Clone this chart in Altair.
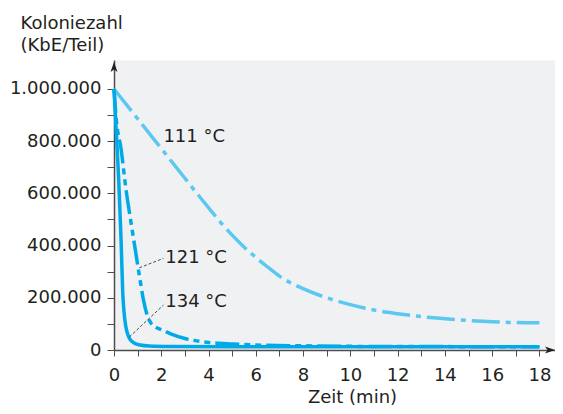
import altair as alt
import pandas as pd

# ---- data ----
t111 = [0, 1, 2, 3, 4, 4.5, 5, 5.5, 6, 6.5, 7, 8, 9, 10, 11, 12, 13, 14, 15, 16, 17, 18]
v111 = [1.0, 0.886, 0.772, 0.658, 0.545, 0.49, 0.44, 0.395, 0.355, 0.318, 0.283, 0.235,
        0.2, 0.174, 0.153, 0.139, 0.128, 0.12, 0.113, 0.108, 0.105, 0.104]

t121 = [0, 0.1, 0.3, 0.5, 0.7, 0.9, 1.1, 1.25, 1.4, 1.55, 1.75, 2.0, 2.4, 3.0, 3.5, 4.0,
        5.0, 6.0, 8, 10, 14, 18]
v121 = [1.0, 0.88, 0.77, 0.62, 0.5, 0.385, 0.27, 0.19, 0.135, 0.105, 0.088, 0.078, 0.062,
        0.044, 0.035, 0.029, 0.023, 0.019, 0.016, 0.014, 0.013, 0.012]

t134 = [0, 0.1, 0.2, 0.3, 0.37, 0.42, 0.5, 0.6, 0.7, 0.85, 1.1, 1.5, 2.4, 5, 10, 18]
v134 = [1.0, 0.83, 0.65, 0.42, 0.22, 0.15, 0.09, 0.055, 0.038, 0.027, 0.019, 0.015, 0.013,
        0.012, 0.012, 0.012]

label_text = ["111 °C", "121 °C", "134 °C"]
label_t = [2.09, 2.17, 2.17]
label_v = [0.798, 0.332, 0.166]

leader_t = [1.07, 0.65]
leader_v = [0.315, 0.05]
leader_t2 = [2.09, 2.09]
leader_v2 = [0.351, 0.172]

x_ticks = list(range(0, 19))
y_ticks = [i * 100000 for i in range(0, 11)]

X_MAX = 18.66
M = 1e6
FONT = "DejaVu Sans"
FS = 18
TXT = "#231F20"
AX = "#4D4D4F"
C_LIGHT = "#5BC8F2"
C_DARK = "#00AAE8"

df111 = pd.DataFrame({"t": t111, "v": [v * M for v in v111]})
df121 = pd.DataFrame({"t": t121, "v": [v * M for v in v121]})
df134 = pd.DataFrame({"t": t134, "v": [v * M for v in v134]})
dflab = pd.DataFrame({"t": label_t, "v": [v * M for v in label_v], "txt": label_text})
dflead = pd.DataFrame({"t": leader_t, "v": [v * M for v in leader_v],
                       "t2": leader_t2, "v2": [v * M for v in leader_v2]})
dfarrow_up = pd.DataFrame({"t": [0], "v": [1.103 * M]})
dfarrow_right = pd.DataFrame({"t": [X_MAX], "v": [0]})

xs = alt.Scale(domain=[0, X_MAX], nice=False, zero=False)
ys = alt.Scale(domain=[0, 1111111], nice=False)

x_axis = alt.Axis(
    values=x_ticks,
    labelExpr="datum.value % 2 == 0 ? datum.label : ''",
    title="Zeit (min)",
    titleX=238, titleY=52, titleAlign="center", titleBaseline="alphabetic",
    tickSize=6, labelPadding=10, labelFlush=False, labelOverlap=False,
    grid=False, domainColor=AX, domainWidth=1.5, tickColor=AX, tickWidth=1,
    labelFont=FONT, labelFontSize=FS, labelColor=TXT,
    titleFont=FONT, titleFontSize=FS, titleFontWeight="normal", titleColor=TXT,
)
y_axis = alt.Axis(
    values=y_ticks,
    labelExpr="datum.value % 200000 == 0 ? replace(replace(format(datum.value, ','), ',', '.'), ',', '.') : ''",
    title=["Koloniezahl", "(KbE/Teil)"],
    titleAngle=0, titleAlign="left", titleBaseline="alphabetic",
    titleX=-94, titleY=-32, titleLineHeight=22,
    tickSize=7, labelPadding=6, labelOverlap=False, labelFlush=False,
    grid=False, domainColor=AX, domainWidth=1.5, tickColor=AX, tickWidth=1,
    labelFont=FONT, labelFontSize=FS, labelColor=TXT,
    titleFont=FONT, titleFontSize=FS, titleFontWeight="normal", titleColor=TXT,
)

def enc():
    return dict(
        x=alt.X("t:Q", scale=xs, axis=x_axis),
        y=alt.Y("v:Q", scale=ys, axis=y_axis),
    )

l111 = alt.Chart(df111).mark_line(
    color=C_LIGHT, strokeWidth=3.5, strokeDash=[28, 6, 5, 6], interpolate="monotone"
).encode(**enc())

l121 = alt.Chart(df121).mark_line(
    color=C_DARK, strokeWidth=3.5, strokeDash=[24, 5, 6, 5, 6, 5], interpolate="monotone"
).encode(**enc())

l134 = alt.Chart(df134).mark_line(
    color=C_DARK, strokeWidth=3.5, interpolate="monotone"
).encode(**enc())

leaders = alt.Chart(dflead).mark_rule(
    color="#231F20", strokeWidth=0.8, strokeDash=[3, 2]
).encode(
    x2="t2:Q", y2="v2:Q", **enc()
)

labels = alt.Chart(dflab).mark_text(
    align="left", baseline="alphabetic", font=FONT, fontSize=FS, color=TXT
).encode(text="txt:N", **enc())

arrow_up = alt.Chart(dfarrow_up).mark_point(
    shape="M0,0 L-0.7,2 L0,1.5 L0.7,2 Z", size=100, filled=True, color="#231F20",
    opacity=1, strokeWidth=0
).encode(**enc())

arrow_right = alt.Chart(dfarrow_right).mark_point(
    shape="M0,0 L-2,-0.7 L-1.5,0 L-2,0.7 Z", size=100, filled=True, color="#231F20",
    opacity=1, strokeWidth=0
).encode(**enc())

chart = alt.layer(l111, l121, l134, leaders, labels, arrow_up, arrow_right).properties(
    width=441, height=290,
    padding={"left": 106, "top": 52, "right": 0, "bottom": 56},
    autosize=alt.AutoSizeParams(type="none"),
).configure_view(fill="#F0F1F3", stroke="transparent")

chart.save("out.html", embed_options={"renderer": "svg", "actions": False})
